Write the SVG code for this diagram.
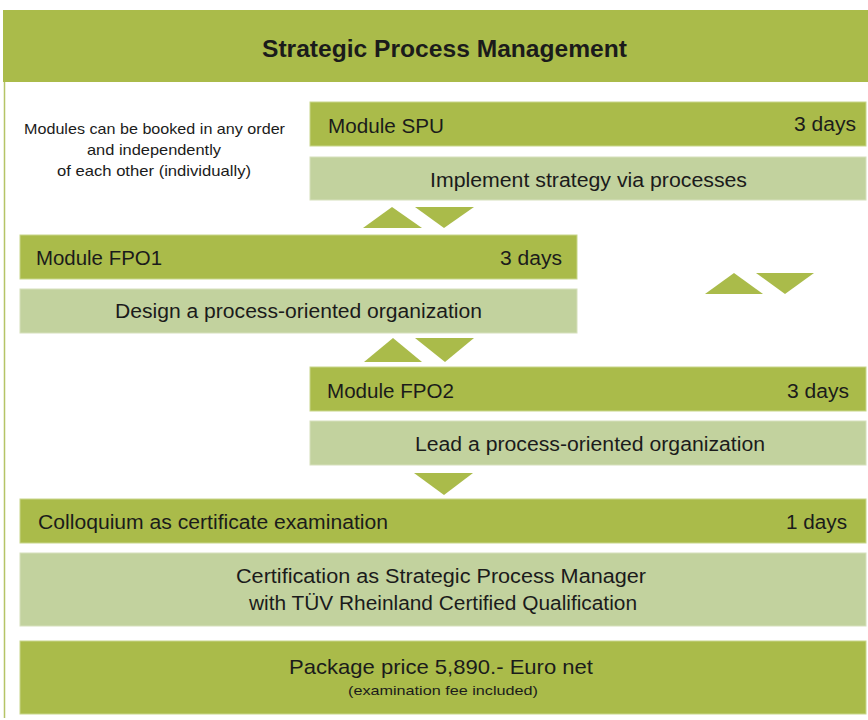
<svg xmlns="http://www.w3.org/2000/svg" width="868" height="720" viewBox="0 0 868 720">
<style>
.dk{fill:#AABB4A;stroke:#C8D68A;stroke-width:1}
.lt{fill:#C2D29E;stroke:#D6E0BC;stroke-width:1}
.tri{fill:#AABB4A}
text{font-family:"Liberation Sans",Arial,sans-serif;fill:#1b1b1b}
.t{font-size:20px}
.c{text-anchor:middle}
.r{text-anchor:end}
</style>
<rect x="0" y="0" width="868" height="720" fill="#ffffff"/>
<line x1="4.5" y1="10" x2="4.5" y2="718" stroke="#B5C466" stroke-width="1.5"/>
<g id="header">
<rect x="3" y="10" width="865" height="72" fill="#AABB4A"/>
<text x="444.5" y="57" class="c" style="font-size:23px;font-weight:bold" textLength="365" lengthAdjust="spacingAndGlyphs">Strategic Process Management</text>
</g>
<g id="note">
<text x="154.5" y="134" class="c" style="font-size:14.5px" textLength="261" lengthAdjust="spacingAndGlyphs">Modules can be booked in any order</text>
<text x="154" y="155" class="c" style="font-size:14.5px" textLength="134" lengthAdjust="spacingAndGlyphs">and independently</text>
<text x="154" y="176" class="c" style="font-size:14.5px" textLength="194" lengthAdjust="spacingAndGlyphs">of each other (individually)</text>
</g>
<g id="spu">
<rect x="310" y="102" width="556" height="44" class="dk"/>
<text x="328" y="133" class="t" textLength="116" lengthAdjust="spacingAndGlyphs">Module SPU</text>
<text x="794" y="131" class="t" textLength="62" lengthAdjust="spacingAndGlyphs">3 days</text>
</g>
<g id="spu-desc">
<rect x="310" y="157" width="556" height="43" class="lt"/>
<text x="430" y="187" class="t" textLength="317" lengthAdjust="spacingAndGlyphs">Implement strategy via processes</text>
</g>
<g id="fpo1">
<rect x="20" y="235" width="557" height="44" class="dk"/>
<text x="36" y="265" class="t" textLength="126" lengthAdjust="spacingAndGlyphs">Module FPO1</text>
<text x="500" y="265" class="t" textLength="62" lengthAdjust="spacingAndGlyphs">3 days</text>
</g>
<g id="fpo1-desc">
<rect x="20" y="289" width="557" height="44" class="lt"/>
<text x="115" y="318" class="t" textLength="367" lengthAdjust="spacingAndGlyphs">Design a process-oriented organization</text>
</g>
<g id="fpo2">
<rect x="310" y="367" width="556" height="44" class="dk"/>
<text x="327" y="398" class="t" textLength="127" lengthAdjust="spacingAndGlyphs">Module FPO2</text>
<text x="787" y="398" class="t" textLength="62" lengthAdjust="spacingAndGlyphs">3 days</text>
</g>
<g id="fpo2-desc">
<rect x="310" y="421" width="556" height="44" class="lt"/>
<text x="415" y="451" class="t" textLength="350" lengthAdjust="spacingAndGlyphs">Lead a process-oriented organization</text>
</g>
<g id="colloquium">
<rect x="20" y="499" width="846" height="44" class="dk"/>
<text x="38" y="529" class="t" textLength="350" lengthAdjust="spacingAndGlyphs">Colloquium as certificate examination</text>
<text x="786" y="529" class="t" textLength="61" lengthAdjust="spacingAndGlyphs">1 days</text>
</g>
<g id="certification">
<rect x="20" y="553" width="846" height="73" class="lt"/>
<text x="236" y="583" class="t" textLength="410" lengthAdjust="spacingAndGlyphs">Certification as Strategic Process Manager</text>
<text x="249" y="610" class="t" textLength="388" lengthAdjust="spacingAndGlyphs">with TÜV Rheinland Certified Qualification</text>
</g>
<g id="price">
<rect x="20" y="641" width="846" height="73" class="dk"/>
<text x="289" y="674" style="font-size:21px" textLength="304" lengthAdjust="spacingAndGlyphs">Package price 5,890.- Euro net</text>
<text x="348" y="695" style="font-size:13.5px" textLength="190" lengthAdjust="spacingAndGlyphs">(examination fee included)</text>
</g>
<g id="connectors">
<polygon class="tri" points="363,228 392,207 422,228"/>
<polygon class="tri" points="415,207 474,207 444,228"/>
<polygon class="tri" points="705,294 734,273 763,294"/>
<polygon class="tri" points="756,273 814,273 785,294"/>
<polygon class="tri" points="364,362 393,338 422,362"/>
<polygon class="tri" points="415,338 474,338 445,362"/>
<polygon class="tri" points="414,473 473,473 444,495"/>
</g>
</svg>
